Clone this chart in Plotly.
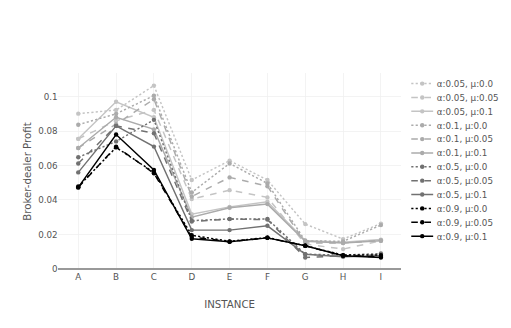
import plotly.graph_objects as go

# Instances on the x axis
instances = ["A", "B", "C", "D", "E", "F", "G", "H", "I"]

# Broker-dealer profit per (alpha, mu) setting
a005_mu00 = [0.0901, 0.0922, 0.1064, 0.0516, 0.0628, 0.0516, 0.0260, 0.0173, 0.0263]
a005_mu005 = [0.0755, 0.0860, 0.0923, 0.0405, 0.0457, 0.0415, 0.0144, 0.0115, 0.0163]
a005_mu01 = [0.0755, 0.0970, 0.0880, 0.0318, 0.0360, 0.0390, 0.0165, 0.0155, 0.0170]
a01_mu00 = [0.0837, 0.0900, 0.1006, 0.0444, 0.0612, 0.0496, 0.0163, 0.0160, 0.0254]
a01_mu005 = [0.0702, 0.0840, 0.0985, 0.0420, 0.0531, 0.0480, 0.0150, 0.0150, 0.0165]
a01_mu01 = [0.0702, 0.0880, 0.0810, 0.0300, 0.0355, 0.0376, 0.0160, 0.0150, 0.0163]
a05_mu00 = [0.0648, 0.0740, 0.0865, 0.0280, 0.0290, 0.0290, 0.0085, 0.0080, 0.0089]
a05_mu005 = [0.0612, 0.0830, 0.0787, 0.0275, 0.0289, 0.0286, 0.0066, 0.0076, 0.0080]
a05_mu01 = [0.0560, 0.0830, 0.0710, 0.0225, 0.0225, 0.0250, 0.0085, 0.0070, 0.0076]
a09_mu00 = [0.0478, 0.0705, 0.0560, 0.0195, 0.0160, 0.0182, 0.0134, 0.0080, 0.0080]
a09_mu005 = [0.0473, 0.0710, 0.0555, 0.0185, 0.0158, 0.0180, 0.0134, 0.0076, 0.0070]
a09_mu01 = [0.0473, 0.0780, 0.0574, 0.0175, 0.0157, 0.0180, 0.0134, 0.0076, 0.0066]

series = [
    ("α:0.05, μ:0.0", a005_mu00, "#c4c4c4", "dot"),
    ("α:0.05, μ:0.05", a005_mu005, "#c4c4c4", "dash"),
    ("α:0.05, μ:0.1", a005_mu01, "#c4c4c4", "solid"),
    ("α:0.1, μ:0.0", a01_mu00, "#ababab", "dot"),
    ("α:0.1, μ:0.05", a01_mu005, "#ababab", "dash"),
    ("α:0.1, μ:0.1", a01_mu01, "#ababab", "solid"),
    ("α:0.5, μ:0.0", a05_mu00, "#717171", "dot"),
    ("α:0.5, μ:0.05", a05_mu005, "#717171", "dash"),
    ("α:0.5, μ:0.1", a05_mu01, "#717171", "solid"),
    ("α:0.9, μ:0.0", a09_mu00, "#000000", "dot"),
    ("α:0.9, μ:0.05", a09_mu005, "#000000", "dash"),
    ("α:0.9, μ:0.1", a09_mu01, "#000000", "solid"),
]

fig = go.Figure()
for name, vals, color, dash in series:
    fig.add_trace(go.Scatter(
        x=instances, y=vals, name=name, mode="lines+markers",
        line=dict(color=color, dash=dash, width=2),
        marker=dict(color=color, size=6),
    ))

# figure laid out at 700x450 and shown at 73% so it fills the 511x328 window
fig.update_layout(
    width=700, height=450,
    template="plotly_white",
    font=dict(family="Verdana, DejaVu Sans, sans-serif", size=12, color="#555"),
    margin=dict(l=80, r=80, t=100, b=80),
    paper_bgcolor="white", plot_bgcolor="white",
    legend=dict(font=dict(size=12), bgcolor="rgba(0,0,0,0)"),
    xaxis=dict(title=dict(text="INSTANCE", standoff=26), gridcolor="#eeeeee", ticks=""),
    yaxis=dict(title=dict(text="Broker-dealer Profit", standoff=6),
               gridcolor="#eeeeee", zeroline=True, zerolinecolor="#999999",
               zerolinewidth=1.5, dtick=0.02, ticks=""),
)

fig.write_html(
    "out.html",
    config={"displayModeBar": False},
    post_script="document.body.style.margin='0';document.body.style.zoom='0.73';",
)
